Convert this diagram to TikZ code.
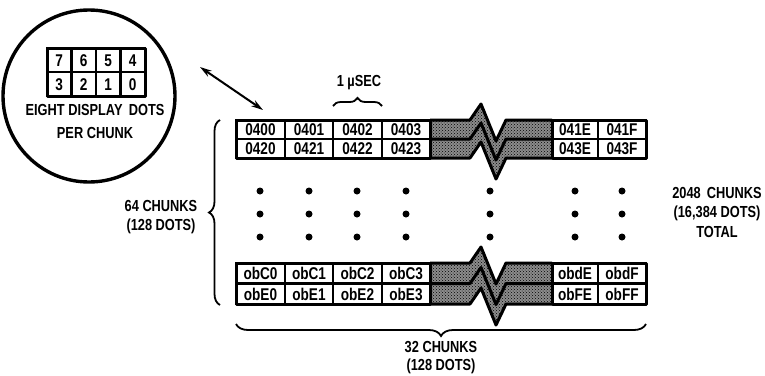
\documentclass[tikz,border=0pt]{standalone}
\usepackage{fontspec}
\setmainfont[FakeStretch=0.8]{Liberation Sans}
\usetikzlibrary{arrows.meta,decorations.pathreplacing,patterns}
\newcommand\mycell[6]{%
  \draw[cellline] (#2,#3) rectangle (#4,#5);
  \node[celltext] (#1) at ({(#2+#4)/2},{(#3+#5)/2+0.5}) {#6};}
\begin{document}
\begin{tikzpicture}[x=1pt,y=-1pt,
  cellline/.style={line width=2.4pt},
  outline/.style={line width=3pt, line join=round},
  celltext/.style={font=\fontsize{17}{18}\selectfont\bfseries, inner sep=0pt},
  lbl/.style={font=\fontsize{16}{19.5}\selectfont\bfseries, align=center, inner sep=0pt},
  bigdot/.style={circle, fill=black, inner sep=0pt, minimum size=7pt},
  bracestyle/.style={decorate, line width=1.8pt},
  shade/.style={pattern=crosshatch dots, pattern color=black}]
\useasboundingbox (0,0) rectangle (765,375);

% ---------- magnifier circle ----------
\node[circle, draw, line width=3.4pt, minimum size=172pt, inner sep=0pt] (circ) at (89,96) {};
\mycell{d7}{47}{48}{71.5}{72}{7}
\mycell{d6}{71.5}{48}{96}{72}{6}
\mycell{d5}{96}{48}{120.5}{72}{5}
\mycell{d4}{120.5}{48}{145}{72}{4}
\mycell{d3}{47}{72}{71.5}{96}{3}
\mycell{d2}{71.5}{72}{96}{96}{2}
\mycell{d1}{96}{72}{120.5}{96}{1}
\mycell{d0}{120.5}{72}{145}{96}{0}
\draw[outline] (47,48) rectangle (145,96);
\node[lbl, font=\fontsize{16}{23}\selectfont\bfseries] (eight) at (95,121) {EIGHT DISPLAY\, DOTS\\PER CHUNK};

% ---------- arrow ----------
\coordinate (arrA) at (200,67);
\coordinate (arrB) at (263,110);
\draw[line width=2pt, {Stealth[length=12pt,width=7pt]}-{Stealth[length=12pt,width=7pt]}] (arrA) -- (arrB);

% ---------- top table ----------
\fill[black!45] (430,120) -- (470,120) -- (481,104) -- (496,141) -- (506,120) -- (552,120)
  -- (552,158) -- (506,158) -- (496,179) -- (481,142) -- (470,158) -- (430,158) -- cycle;
\fill[shade] (430,120) -- (470,120) -- (481,104) -- (496,141) -- (506,120) -- (552,120)
  -- (552,158) -- (506,158) -- (496,179) -- (481,142) -- (470,158) -- (430,158) -- cycle;
\foreach \yy in {120,139,158}{
  \draw[outline] (430,\yy) -- (470,\yy) -- (481,\yy-16) -- (496,\yy+21) -- (506,\yy) -- (552,\yy);}
\mycell{t00}{236}{120}{285}{139}{0400}
\mycell{t01}{285}{120}{333}{139}{0401}
\mycell{t02}{333}{120}{382}{139}{0402}
\mycell{t03}{382}{120}{430}{139}{0403}
\mycell{t0E}{552}{120}{598}{139}{041E}
\mycell{t0F}{598}{120}{646}{139}{041F}
\mycell{t10}{236}{139}{285}{158}{0420}
\mycell{t11}{285}{139}{333}{158}{0421}
\mycell{t12}{333}{139}{382}{158}{0422}
\mycell{t13}{382}{139}{430}{158}{0423}
\mycell{t1E}{552}{139}{598}{158}{043E}
\mycell{t1F}{598}{139}{646}{158}{043F}
\draw[outline] (236,120) rectangle (430,158);
\draw[outline] (552,120) rectangle (646,158);

% ---------- bottom table ----------
\fill[black!45] (430,263) -- (470,263) -- (481,247) -- (496,284) -- (506,263) -- (552,263)
  -- (552,304) -- (506,304) -- (496,325) -- (481,288) -- (470,304) -- (430,304) -- cycle;
\fill[shade] (430,263) -- (470,263) -- (481,247) -- (496,284) -- (506,263) -- (552,263)
  -- (552,304) -- (506,304) -- (496,325) -- (481,288) -- (470,304) -- (430,304) -- cycle;
\foreach \yy in {263,283.5,304}{
  \draw[outline] (430,\yy) -- (470,\yy) -- (481,\yy-16) -- (496,\yy+21) -- (506,\yy) -- (552,\yy);}
\mycell{b00}{236}{263}{285}{283.5}{obC0}
\mycell{b01}{285}{263}{333}{283.5}{obC1}
\mycell{b02}{333}{263}{382}{283.5}{obC2}
\mycell{b03}{382}{263}{430}{283.5}{obC3}
\mycell{b0E}{552}{263}{598}{283.5}{obdE}
\mycell{b0F}{598}{263}{646}{283.5}{obdF}
\mycell{b10}{236}{283.5}{285}{304}{obE0}
\mycell{b11}{285}{283.5}{333}{304}{obE1}
\mycell{b12}{333}{283.5}{382}{304}{obE2}
\mycell{b13}{382}{283.5}{430}{304}{obE3}
\mycell{b1E}{552}{283.5}{598}{304}{obFE}
\mycell{b1F}{598}{283.5}{646}{304}{obFF}
\draw[outline] (236,263) rectangle (430,304);
\draw[outline] (552,263) rectangle (646,304);

% ---------- dots ----------
\foreach \xx [count=\i] in {260,309,357,406,490,575,622}{
  \foreach \yy [count=\j] in {191,214,237}{
    \node[bigdot] (dot\i\j) at (\xx,\yy) {};}}

% ---------- braces ----------
\coordinate (lbB) at (220,305);
\coordinate (lbT) at (220,120);
\draw[bracestyle, decoration={brace, amplitude=11pt}] (lbB) -- (lbT);
\coordinate (ubL) at (333,106);
\coordinate (ubR) at (382,106);
\draw[bracestyle, decoration={brace, amplitude=8pt}] (ubL) -- (ubR);
\coordinate (bbR) at (646,324);
\coordinate (bbL) at (236,324);
\draw[bracestyle, decoration={brace, amplitude=12pt}] (bbR) -- (bbL);

% ---------- labels ----------
\node[lbl] (usec) at (359,83) {1 µSEC};
\node[lbl] (left) at (161,217) {64 CHUNKS\\(128 DOTS)};
\node[lbl] (right) at (717,212) {2048\, CHUNKS\\(16,384 DOTS)\\TOTAL};
\node[lbl, font=\fontsize{16}{18}\selectfont\bfseries] (bottom) at (441,358) {32 CHUNKS\\(128 DOTS)};
\end{tikzpicture}
\end{document}
